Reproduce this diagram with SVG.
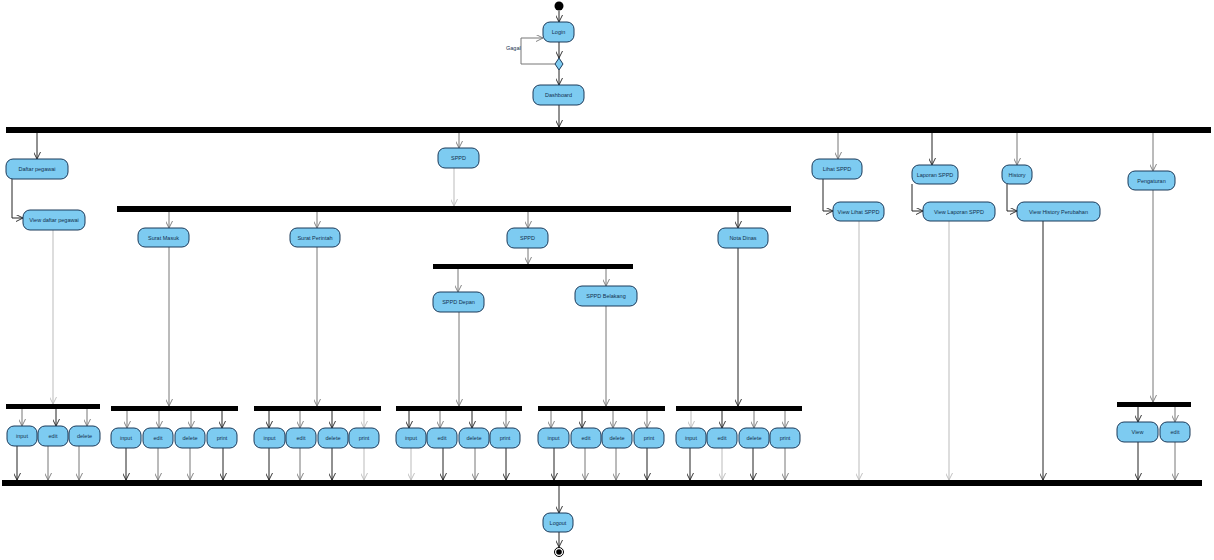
<svg xmlns="http://www.w3.org/2000/svg" width="1214" height="560" viewBox="0 0 1214 560">
<style>
.n rect{fill:#7DCBF1;stroke:#1B3A5A;stroke-width:1}
.n text{font-family:"Liberation Sans",Arial,sans-serif;font-size:5.5px;fill:#12304F;text-anchor:middle;dominant-baseline:central}
.bar{fill:#000}
.c path{fill:none;stroke-width:1}
.d{stroke:#222}
.m{stroke:#777}
.l{stroke:#BBB}
.d{marker-end:url(#ad)}
.m{marker-end:url(#am)}
.l{marker-end:url(#al)}
.nm{marker-end:none}
.lbl{font-family:"Liberation Sans",Arial,sans-serif;font-size:5.5px;fill:#12304F}
</style>
<defs>
<marker id="ad" viewBox="0 0 10 10" refX="10" refY="5" markerWidth="7" markerHeight="7" markerUnits="userSpaceOnUse" orient="auto"><path d="M0,0 L10,5 L0,10" fill="none" stroke="#222" stroke-width="1.3"/></marker>
<marker id="am" viewBox="0 0 10 10" refX="10" refY="5" markerWidth="7" markerHeight="7" markerUnits="userSpaceOnUse" orient="auto"><path d="M0,0 L10,5 L0,10" fill="none" stroke="#777" stroke-width="1.3"/></marker>
<marker id="al" viewBox="0 0 10 10" refX="10" refY="5" markerWidth="7" markerHeight="7" markerUnits="userSpaceOnUse" orient="auto"><path d="M0,0 L10,5 L0,10" fill="none" stroke="#BBB" stroke-width="1.3"/></marker>
</defs>
<rect width="1214" height="560" fill="#fff"/>

<g id="connectors" class="c">
<path class="d" d="M559,11 V22"/>
<path class="d" d="M559,42 V58"/>
<path class="d" d="M559,70 V85"/>
<path class="m" d="M555,64 H521 V38 H543"/>
<path class="d" d="M559,105 V127"/>
<path class="d" d="M37,133 V159"/>
<path class="m" d="M459,133 V148"/>
<path class="m" d="M838,133 V159"/>
<path class="d" d="M932,133 V165"/>
<path class="m" d="M1017,133 V165"/>
<path class="m" d="M1153,133 V171"/>
<path class="d" d="M12,179 V218 H23"/>
<path class="l" d="M53,230 V404"/>
<path class="l" d="M454,168 V206"/>
<path class="m" d="M169,212 V228"/>
<path class="m" d="M317,212 V228"/>
<path class="m" d="M528,212 V228"/>
<path class="d" d="M738,212 V228"/>
<path class="m" d="M169,247 V406"/>
<path class="m" d="M317,247 V406"/>
<path class="m" d="M528,248 V264"/>
<path class="m" d="M458,269 V292"/>
<path class="m" d="M606,269 V286"/>
<path class="m" d="M459,312 V406"/>
<path class="m" d="M606,305 V406"/>
<path class="d" d="M738,248 V406"/>
<path class="d" d="M823,179 V211 H833"/>
<path class="l" d="M859,221 V480"/>
<path class="d" d="M912,184 V211 H923"/>
<path class="l" d="M949,221 V480"/>
<path class="d" d="M1007,184 V211 H1017"/>
<path class="d" d="M1043,221 V480"/>
<path class="m" d="M1153,190 V402"/>
<path class="d" d="M1138,407 V422"/>
<path class="m" d="M1175,407 V422"/>
<path class="d" d="M1138,442 V480"/>
<path class="m" d="M1175,442 V480"/>
<!-- daftar pegawai group -->
<path class="m" d="M22,409 V426"/>
<path class="d" d="M56,409 V426"/>
<path class="m" d="M87,409 V426"/>
<path class="d" d="M17,446 V480"/>
<path class="m" d="M48,446 V480"/>
<path class="m" d="M79,446 V480"/>
<!-- surat masuk group -->
<path class="m" d="M127,411 V428"/>
<path class="m" d="M159,411 V428"/>
<path class="m" d="M191,411 V428"/>
<path class="d" d="M222,411 V428"/>
<path class="d" d="M126,448 V480"/>
<path class="m" d="M158,448 V480"/>
<path class="m" d="M190,448 V480"/>
<path class="d" d="M223,448 V480"/>
<!-- surat perintah group -->
<path class="d" d="M269,411 V428"/>
<path class="m" d="M300,411 V428"/>
<path class="d" d="M332,411 V428"/>
<path class="l" d="M364,411 V428"/>
<path class="d" d="M269,448 V480"/>
<path class="m" d="M300,448 V480"/>
<path class="d" d="M332,448 V480"/>
<path class="l" d="M364,448 V480"/>
<!-- sppd depan group -->
<path class="d" d="M409,411 V428"/>
<path class="m" d="M440,411 V428"/>
<path class="d" d="M472,411 V428"/>
<path class="m" d="M506,411 V428"/>
<path class="l" d="M411,448 V480"/>
<path class="d" d="M443,448 V480"/>
<path class="m" d="M475,448 V480"/>
<path class="d" d="M506,448 V480"/>
<!-- sppd belakang group -->
<path class="m" d="M551,411 V428"/>
<path class="d" d="M582,411 V428"/>
<path class="m" d="M613,411 V428"/>
<path class="m" d="M647,411 V428"/>
<path class="d" d="M554,448 V480"/>
<path class="m" d="M585,448 V480"/>
<path class="m" d="M616,448 V480"/>
<path class="d" d="M647,448 V480"/>
<!-- nota dinas group -->
<path class="l" d="M691,411 V428"/>
<path class="d" d="M722,411 V428"/>
<path class="m" d="M754,411 V428"/>
<path class="m" d="M785,411 V428"/>
<path class="d" d="M690,448 V480"/>
<path class="l" d="M722,448 V480"/>
<path class="d" d="M753,448 V480"/>
<path class="m" d="M785,448 V480"/>
<!-- to logout -->
<path class="d" d="M559,486 V513"/>
<path class="d" d="M559,532 V547"/>
</g>

<g id="start"><circle cx="559" cy="6" r="4.5" fill="#000"/></g>
<g id="end"><circle cx="559" cy="552" r="4.5" fill="#fff" stroke="#000" stroke-width="1"/><circle cx="559" cy="552" r="2.8" fill="#000"/></g>
<g id="decision"><polygon points="559,58 563,64 559,70 555,64" fill="#7DCBF1" stroke="#1B3A5A" stroke-width="1"/></g>
<text class="lbl" x="506" y="50">Gagal</text>

<g id="bars">
<rect class="bar" x="6" y="127" width="1205" height="6"/>
<rect class="bar" x="117" y="206" width="674" height="6"/>
<rect class="bar" x="433" y="264" width="200" height="5"/>
<rect class="bar" x="6" y="404" width="94" height="5"/>
<rect class="bar" x="111" y="406" width="127" height="5"/>
<rect class="bar" x="254" y="406" width="127" height="5"/>
<rect class="bar" x="396" y="406" width="126" height="5"/>
<rect class="bar" x="538" y="406" width="127" height="5"/>
<rect class="bar" x="676" y="406" width="126" height="5"/>
<rect class="bar" x="1117" y="402" width="74" height="5"/>
<rect class="bar" x="2" y="480" width="1200" height="6"/>
</g>

<g id="login" class="n"><rect x="543" y="22" width="31" height="20" rx="7"/><text x="558.5" y="32">Login</text></g>
<g id="dashboard" class="n"><rect x="533" y="85" width="51" height="20" rx="7"/><text x="558.5" y="95">Dashboard</text></g>
<g id="daftar-pegawai" class="n"><rect x="6" y="159" width="62" height="20" rx="7"/><text x="37" y="169">Daftar pegawai</text></g>
<g id="view-daftar-pegawai" class="n"><rect x="23" y="210" width="62" height="20" rx="7"/><text x="54" y="220">View daftar pegawai</text></g>
<g id="sppd" class="n"><rect x="438" y="148" width="41" height="20" rx="7"/><text x="458.5" y="158">SPPD</text></g>
<g id="surat-masuk" class="n"><rect x="138" y="228" width="51" height="19" rx="7"/><text x="163.5" y="237.5">Surat Masuk</text></g>
<g id="surat-perintah" class="n"><rect x="290" y="228" width="50" height="19" rx="7"/><text x="315" y="237.5">Surat Perintah</text></g>
<g id="sppd-2" class="n"><rect x="507" y="228" width="41" height="20" rx="7"/><text x="527.5" y="238">SPPD</text></g>
<g id="sppd-depan" class="n"><rect x="433" y="292" width="51" height="20" rx="7"/><text x="458.5" y="302">SPPD Depan</text></g>
<g id="sppd-belakang" class="n"><rect x="575" y="286" width="62" height="20" rx="7"/><text x="606" y="296">SPPD Belakang</text></g>
<g id="nota-dinas" class="n"><rect x="718" y="228" width="50" height="20" rx="7"/><text x="743" y="238">Nota Dinas</text></g>
<g id="lihat-sppd" class="n"><rect x="812" y="159" width="50" height="20" rx="7"/><text x="837" y="169">Lihat SPPD</text></g>
<g id="view-lihat-sppd" class="n"><rect x="833" y="202" width="51" height="19" rx="7"/><text x="858.5" y="211.5">View Lihat SPPD</text></g>
<g id="laporan-sppd" class="n"><rect x="912" y="165" width="46" height="19" rx="7"/><text x="935" y="174.5">Laporan SPPD</text></g>
<g id="view-laporan-sppd" class="n"><rect x="923" y="202" width="72" height="19" rx="7"/><text x="959" y="211.5">View Laporan SPPD</text></g>
<g id="history" class="n"><rect x="1002" y="165" width="30" height="19" rx="7"/><text x="1017" y="174.5">History</text></g>
<g id="view-history" class="n"><rect x="1017" y="202" width="83" height="19" rx="7"/><text x="1058.5" y="211.5">View History Perubahan</text></g>
<g id="pengaturan" class="n"><rect x="1128" y="171" width="47" height="19" rx="7"/><text x="1151.5" y="180.5">Pengaturan</text></g>
<g id="peng-view" class="n"><rect x="1117" y="422" width="41" height="20" rx="7"/><text x="1137.5" y="432">View</text></g>
<g id="peng-edit" class="n"><rect x="1160" y="422" width="30" height="20" rx="7"/><text x="1175" y="432">edit</text></g>

<g id="dp-input" class="n"><rect x="7" y="426" width="30" height="20" rx="7"/><text x="22" y="436">input</text></g>
<g id="dp-edit" class="n"><rect x="38" y="426" width="30" height="20" rx="7"/><text x="53" y="436">edit</text></g>
<g id="dp-delete" class="n"><rect x="69" y="426" width="31" height="20" rx="7"/><text x="84.5" y="436">delete</text></g>

<g id="sm-input" class="n"><rect x="111" y="428" width="30" height="20" rx="7"/><text x="126" y="438">input</text></g>
<g id="sm-edit" class="n"><rect x="143" y="428" width="30" height="20" rx="7"/><text x="158" y="438">edit</text></g>
<g id="sm-delete" class="n"><rect x="175" y="428" width="30" height="20" rx="7"/><text x="190" y="438">delete</text></g>
<g id="sm-print" class="n"><rect x="207" y="428" width="30" height="20" rx="7"/><text x="222" y="438">print</text></g>

<g id="sp-input" class="n"><rect x="254" y="428" width="31" height="20" rx="7"/><text x="269.5" y="438">input</text></g>
<g id="sp-edit" class="n"><rect x="286" y="428" width="30" height="20" rx="7"/><text x="301" y="438">edit</text></g>
<g id="sp-delete" class="n"><rect x="318" y="428" width="30" height="20" rx="7"/><text x="333" y="438">delete</text></g>
<g id="sp-print" class="n"><rect x="349" y="428" width="30" height="20" rx="7"/><text x="364" y="438">print</text></g>

<g id="sd-input" class="n"><rect x="396" y="428" width="30" height="20" rx="7"/><text x="411" y="438">input</text></g>
<g id="sd-edit" class="n"><rect x="427" y="428" width="30" height="20" rx="7"/><text x="442" y="438">edit</text></g>
<g id="sd-delete" class="n"><rect x="459" y="428" width="30" height="20" rx="7"/><text x="474" y="438">delete</text></g>
<g id="sd-print" class="n"><rect x="490" y="428" width="30" height="20" rx="7"/><text x="505" y="438">print</text></g>

<g id="sb-input" class="n"><rect x="538" y="428" width="31" height="20" rx="7"/><text x="553.5" y="438">input</text></g>
<g id="sb-edit" class="n"><rect x="571" y="428" width="30" height="20" rx="7"/><text x="586" y="438">edit</text></g>
<g id="sb-delete" class="n"><rect x="602" y="428" width="30" height="20" rx="7"/><text x="617" y="438">delete</text></g>
<g id="sb-print" class="n"><rect x="634" y="428" width="30" height="20" rx="7"/><text x="649" y="438">print</text></g>

<g id="nd-input" class="n"><rect x="676" y="428" width="30" height="20" rx="7"/><text x="691" y="438">input</text></g>
<g id="nd-edit" class="n"><rect x="707" y="428" width="30" height="20" rx="7"/><text x="722" y="438">edit</text></g>
<g id="nd-delete" class="n"><rect x="739" y="428" width="30" height="20" rx="7"/><text x="754" y="438">delete</text></g>
<g id="nd-print" class="n"><rect x="770" y="428" width="30" height="20" rx="7"/><text x="785" y="438">print</text></g>

<g id="logout" class="n"><rect x="543" y="513" width="30" height="19" rx="7"/><text x="558" y="522.5">Logout</text></g>
</svg>
